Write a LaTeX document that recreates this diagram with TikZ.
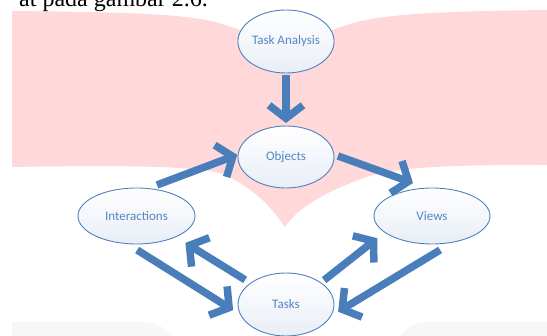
\documentclass[tikz,border=0pt]{standalone}
\usepackage{fontspec}
\setmainfont{Liberation Serif}
\newfontfamily\calib{Carlito}
\usetikzlibrary{arrows.meta,shapes.geometric}
\definecolor{pinkbg}{RGB}{255,216,218}
\definecolor{graybg}{RGB}{247,247,247}
\definecolor{edgeblue}{RGB}{79,129,189}
\definecolor{txtblue}{RGB}{84,134,196}
\definecolor{arrblue}{RGB}{74,126,187}
\definecolor{fillbot}{RGB}{232,238,247}
\tikzset{
  bubble/.style={ellipse, draw=edgeblue, line width=0.9pt, top color=white,
    bottom color=fillbot, inner sep=0pt, outer sep=0pt,
    font=\calib\fontsize{13}{15}\selectfont, text=txtblue},
  flow/.style={draw=arrblue, line width=7.5pt,
    -{Straight Barb[sharp, length=13pt, width=34pt]}},
}
\begin{document}
\begin{tikzpicture}[x=1pt,y=-1pt]
\useasboundingbox (0,0) rectangle (547,336);
\clip (0,0) rectangle (547,336);
% background banner
\fill[pinkbg] (12,11) .. controls (110,12) and (180,13) .. (215,22)
  .. controls (245,30) and (260,40) .. (286,42)
  .. controls (312,40) and (327,30) .. (357,22)
  .. controls (392,13) and (460,11) .. (547,10) -- (547,165)
  .. controls (460,165) and (400,166) .. (367,177)
  .. controls (330,190) and (300,205) .. (285,227)
  .. controls (270,205) and (250,185) .. (220,173)
  .. controls (190,166) and (120,165) .. (12,167) -- cycle;
\fill[graybg] (12,336) -- (12,322) -- (140,322) .. controls (158,322) and (168,330) .. (173,336) -- cycle;
\fill[graybg] (547,336) -- (547,322) -- (427,322) .. controls (412,322) and (404,330) .. (400,336) -- cycle;
% caption fragment
\node[anchor=base east, inner sep=0pt, font=\fontsize{24}{28}\selectfont] (cap) at (208,6.5) {at pada gambar 2.6.};
% nodes
\node[bubble, minimum width=96pt, minimum height=63pt] (ta) at (286,41.5) {Task Analysis};
\node[bubble, minimum width=96pt, minimum height=62pt] (obj) at (286,157) {Objects};
\node[bubble, minimum width=117pt, minimum height=56pt] (int) at (136.5,216) {Interactions};
\node[bubble, minimum width=116pt, minimum height=56pt] (views) at (432,216) {Views};
\node[bubble, minimum width=96pt, minimum height=63pt] (tasks) at (286,304.5) {Tasks};
% connectors
\draw[flow, shorten <=2pt, shorten >=3pt] (ta.south) -- (obj.north);
\draw[flow, shorten <=10pt, shorten >=1pt] (int.68) -- (obj.177);
\draw[flow, shorten <=4.4pt, shorten >=15pt] (obj.3) -- (views.100);
\draw[flow, shorten <=12pt, shorten >=9pt] (int.251) -- (tasks.193);
\draw[flow, shorten <=6.4pt, shorten >=11.5pt] (tasks.149) -- (int.-28);
\draw[flow, shorten <=4.3pt, shorten >=9.6pt] (tasks.32) -- (views.199);
\draw[flow, shorten <=15.2pt, shorten >=9pt] (views.-51) -- (tasks.-15);
\end{tikzpicture}
\end{document}
